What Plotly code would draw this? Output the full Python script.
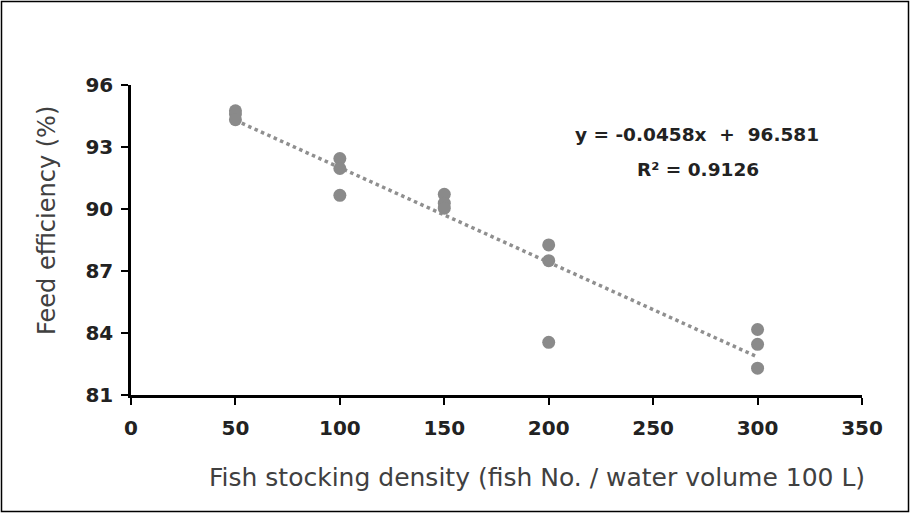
import plotly.graph_objects as go

density = [50, 50, 50, 100, 100, 100, 150, 150, 150, 200, 200, 200, 300, 300, 300]
efficiency = [94.75, 94.6, 94.32, 92.44, 91.96, 90.66, 90.71, 90.28, 90.04, 88.26, 87.5, 83.55, 84.17, 83.45, 82.3]
slope = -0.0458
intercept = 96.581
r2 = 0.9126
trend_x = [50, 300]
x_ticks = [0, 50, 100, 150, 200, 250, 300, 350]
y_ticks = [81, 84, 87, 90, 93, 96]

trend_y = [slope * v + intercept for v in trend_x]

W, H = 910, 513
L, R, T, B = 131, 48, 85, 118
pw, ph = W - L - R, H - T - B

def px(x):
    return (x - L) / pw

def py(y):
    return (H - B - y) / ph

fig = go.Figure()
fig.add_trace(go.Scatter(x=trend_x, y=trend_y, mode="lines",
                         line=dict(color="#8f8f8f", width=3.5, dash="dot"),
                         showlegend=False, hoverinfo="skip"))
fig.add_trace(go.Scatter(x=density, y=efficiency, mode="markers",
                         marker=dict(color="#8a8a8a", size=13),
                         showlegend=False))

tick_font = dict(size=20, color="#222222", family="DejaVu Sans", weight="bold")
xtitle_font = dict(size=25, color="#404040", family="DejaVu Sans")
ytitle_font = dict(size=24, color="#404040", family="DejaVu Sans")
eq_font = dict(size=18.5, color="#222222", family="DejaVu Sans", weight="bold")

fig.update_layout(
    width=W, height=H,
    margin=dict(l=L, r=R, t=T, b=B),
    paper_bgcolor="white", plot_bgcolor="white",
    font=dict(family="DejaVu Sans", color="#333333"),
    xaxis=dict(range=[0, 350], tickvals=x_ticks, showgrid=False, zeroline=False,
               showline=True, linecolor="black", linewidth=2.5,
               ticks="outside", ticklen=7, tickwidth=2, tickcolor="black",
               tickfont=tick_font, ticklabelstandoff=6),
    yaxis=dict(range=[81, 96], tickvals=y_ticks, showgrid=False, zeroline=False,
               showline=True, linecolor="black", linewidth=2.5,
               ticks="outside", ticklen=7, tickwidth=2, tickcolor="black",
               tickfont=tick_font, ticklabelstandoff=4),
    annotations=[
        dict(text="Fish stocking density (fish No. / water volume 100 L)",
             x=px(537), y=py(477), xref="paper", yref="paper", showarrow=False,
             font=xtitle_font, xanchor="center", yanchor="middle"),
        dict(text="Feed efficiency (%)", x=px(47), y=py(221), xref="paper", yref="paper",
             textangle=-90, showarrow=False, font=ytitle_font,
             xanchor="center", yanchor="middle"),
        dict(text=f"y = {slope}x  +  {intercept}", x=px(697), y=py(134),
             xref="paper", yref="paper", showarrow=False,
             font=eq_font, xanchor="center", yanchor="middle"),
        dict(text=f"R² = {r2}", x=px(698), y=py(169),
             xref="paper", yref="paper", showarrow=False,
             font=eq_font, xanchor="center", yanchor="middle"),
    ],
    shapes=[dict(type="rect", xref="paper", yref="paper",
                 x0=px(1.5), x1=px(908.5), y0=py(511.5), y1=py(1.5),
                 line=dict(color="black", width=1.5), fillcolor="rgba(0,0,0,0)", layer="below")],
)

fig.write_html("out.html", config={"displayModeBar": False},
               post_script="document.body.style.margin='0';document.body.style.overflow='hidden';")
